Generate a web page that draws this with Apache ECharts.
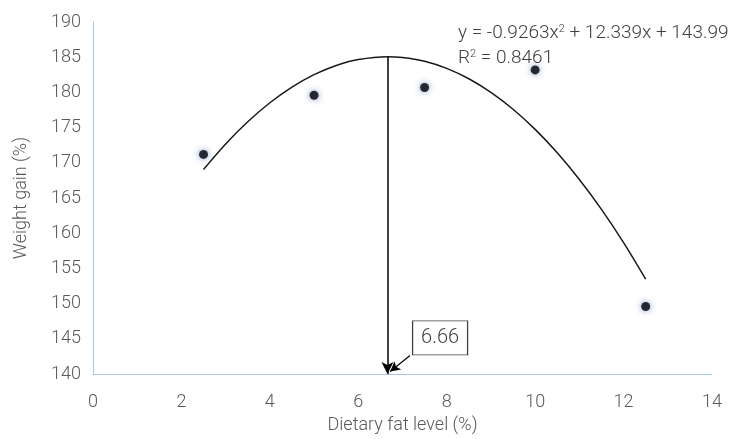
<!DOCTYPE html>
<html><head><meta charset="utf-8">
<script src="https://cdn.jsdelivr.net/npm/echarts@6/dist/echarts.min.js"></script>
<style>html,body{margin:0;padding:0;background:#fff}#c{width:731px;height:439px}</style>
</head><body><div id="c"></div>
<script>
const fatLevels = [2.5, 5, 7.5, 10, 12.5];
const weightGain = [171.2, 179.6, 180.7, 183.2, 149.6];
const trendX = [2.5, 3, 3.5, 4, 4.5, 5, 5.5, 6, 6.66, 7, 7.5, 8, 8.5, 9, 9.5, 10, 10.5, 11, 11.5, 12, 12.5];
const trendY = [169.05, 172.67, 175.83, 178.53, 180.76, 182.53, 183.83, 184.67, 185.08, 184.97, 184.43, 183.42, 181.94, 180.01, 177.61, 174.75, 171.43, 167.64, 163.39, 158.67, 153.48];
const optimumX = 6.66;
const optimumY = 185.08;
const xTicks = [0, 2, 4, 6, 8, 10, 12, 14];
const yTicks = [140, 145, 150, 155, 160, 165, 170, 175, 180, 185, 190];
const equationText = 'y = -0.9263x{sup|2} + 12.339x + 143.99';
const r2Text = 'R{sup|2} = 0.8461';

const chart = echarts.init(document.getElementById('c'), null, {renderer:'canvas'});
const txt = '#595959';
const FONT = 'Roboto';
const W = 300;
chart.setOption({
  animation:false,
  grid:{left:93, right:19, top:22, bottom:52},
  xAxis:{type:'value', min:xTicks[0], max:xTicks[xTicks.length-1], interval:2,
    axisLine:{lineStyle:{color:'#a9c6e8', width:1}}, axisTick:{show:false}, splitLine:{show:false},
    axisLabel:{color:txt, fontSize:18, fontFamily:FONT, fontWeight:W, margin:19},
    name:'Dietary fat level (%)', nameLocation:'middle', nameGap:36,
    nameTextStyle:{color:txt, fontSize:18, fontFamily:FONT, fontWeight:W}},
  yAxis:{type:'value', min:yTicks[0], max:yTicks[yTicks.length-1], interval:5,
    axisLine:{show:true, lineStyle:{color:'#a9c6e8', width:1}}, axisTick:{show:false}, splitLine:{show:false},
    axisLabel:{color:txt, fontSize:18, fontFamily:FONT, fontWeight:W, margin:12},
    name:'Weight gain (%)', nameLocation:'middle', nameGap:63,
    nameTextStyle:{color:txt, fontSize:18, fontFamily:FONT, fontWeight:W}},
  series:[
    {type:'line', data:trendX.map((x,i)=>[x,trendY[i]]), smooth:0.3, symbol:'none',
      lineStyle:{color:'#1a1a1a', width:1.5}, z:2,
      markLine:{silent:true, animation:false, symbolSize:[9,12],
        lineStyle:{color:'#000', width:1.5, type:'solid'}, label:{show:false},
        data:[
          [{coord:[optimumX, optimumY], symbol:'none'},{coord:[optimumX, yTicks[0]], symbol:'arrow'}],
          [{coord:[7.17, 142.64], symbol:'none', lineStyle:{width:1.2}},{coord:[6.72, 140.36], symbol:'arrow', symbolSize:[8,10]}]
        ]},
      markPoint:{silent:true, animation:false,
        data:[{coord:[7.85, 145.14], symbol:'rect', symbolSize:[55,34],
          itemStyle:{color:'#fff', borderColor:'#404040', borderWidth:1},
          label:{show:true, position:'inside', formatter:'6.66', color:'#404040', fontSize:20, fontFamily:FONT, fontWeight:W}}]}
    },
    {type:'scatter', data:fatLevels.map((x,i)=>[x,weightGain[i]]), symbolSize:9,
      itemStyle:{color:'#000', shadowBlur:6, shadowColor:'rgba(68,114,196,0.9)'}, z:3}
  ],
  graphic:[
    {type:'text', left:458, top:24, style:{text:equationText, fill:'#404040', font:'300 19px Roboto',
      rich:{sup:{font:'300 11px Roboto', verticalAlign:'top', fill:'#404040', padding:[0,0,8,0]}}}},
    {type:'text', left:458, top:49, style:{text:r2Text, fill:'#404040', font:'300 19px Roboto',
      rich:{sup:{font:'300 11px Roboto', verticalAlign:'top', fill:'#404040', padding:[0,0,8,0]}}}}
  ]
});
</script></body></html>
